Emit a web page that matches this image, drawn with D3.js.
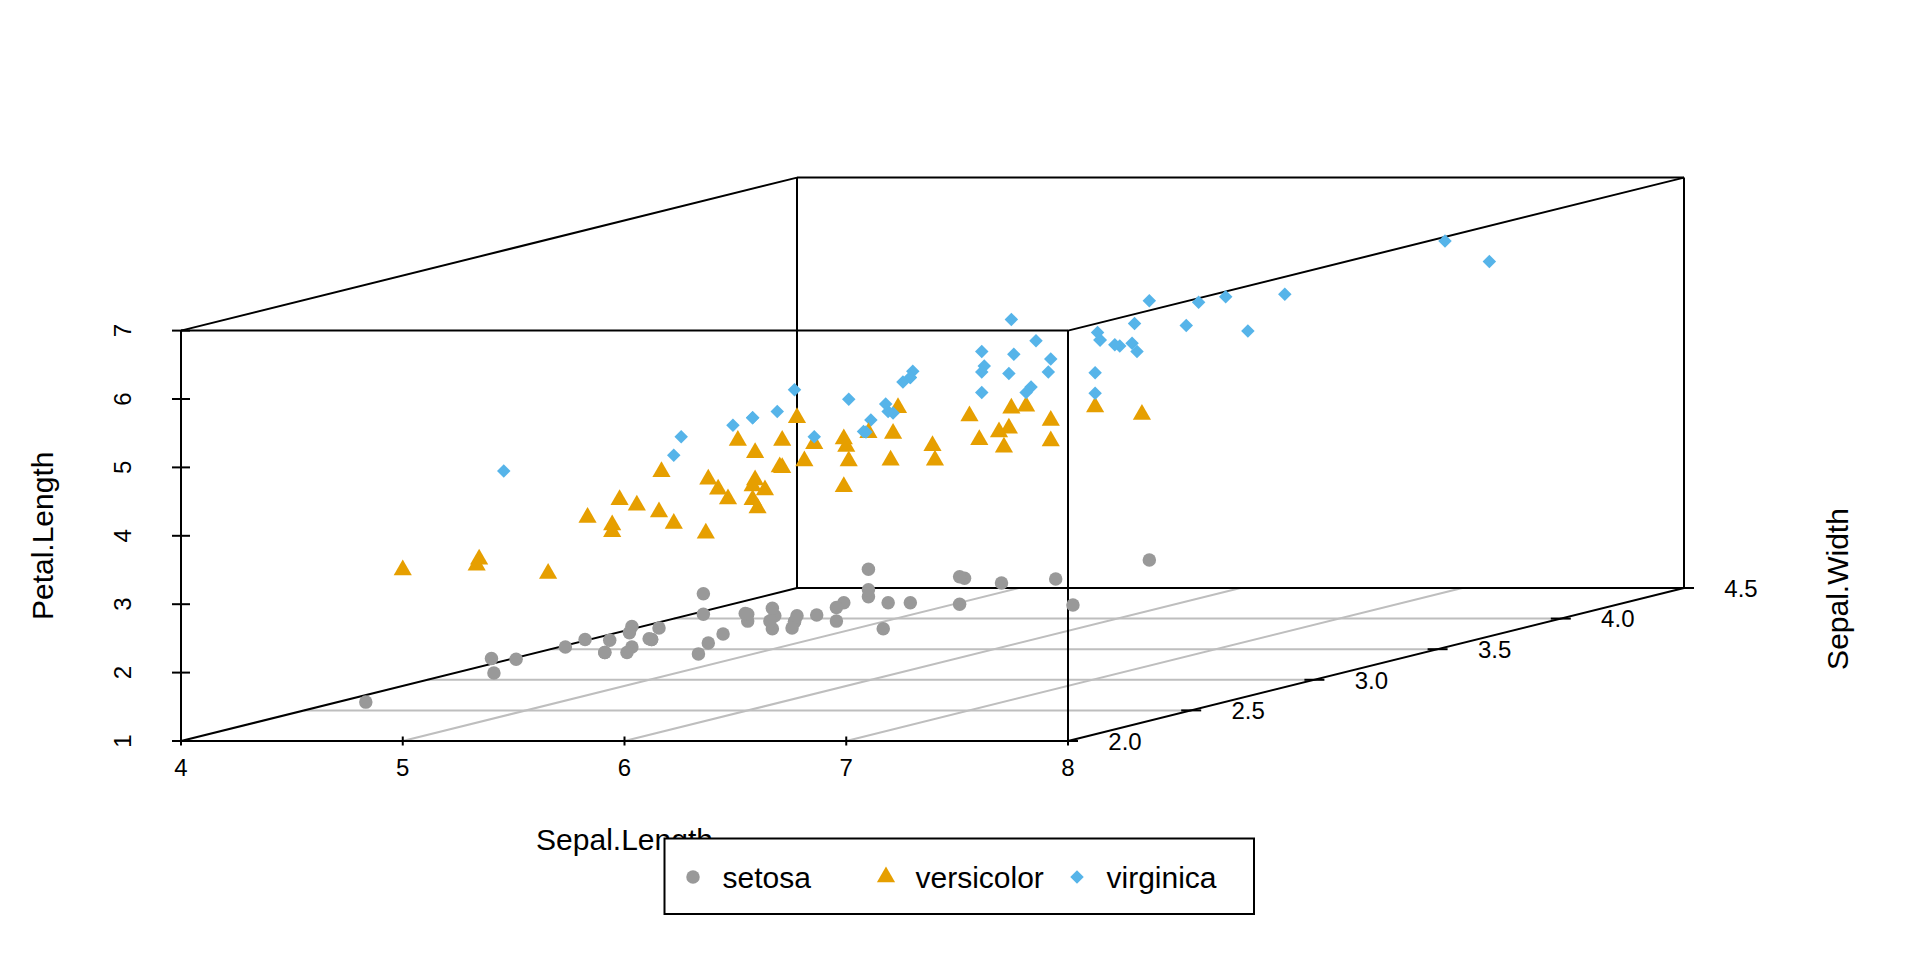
<!DOCTYPE html>
<html>
<head>
<meta charset="utf-8">
<script src="https://cdn.jsdelivr.net/npm/d3@7"></script>
<style>
  body { margin: 0; background: #fff; }
  text { font-family: "Liberation Sans", Arial, sans-serif; fill: #000; }
</style>
</head>
<body>
<script>
// iris data, one set of arrays per species
var setosaSepalLength = [5.1,4.9,4.7,4.6,5.0,5.4,4.6,5.0,4.4,4.9,5.4,4.8,4.8,4.3,5.8,5.7,5.4,5.1,5.7,5.1,5.4,5.1,4.6,5.1,4.8,5.0,5.0,5.2,5.2,4.7,4.8,5.4,5.2,5.5,4.9,5.0,5.5,4.9,4.4,5.1,5.0,4.5,4.4,5.0,5.1,4.8,5.1,4.6,5.3,5.0];
var setosaSepalWidth  = [3.5,3.0,3.2,3.1,3.6,3.9,3.4,3.4,2.9,3.1,3.7,3.4,3.0,3.0,4.0,4.4,3.9,3.5,3.8,3.8,3.4,3.7,3.6,3.3,3.4,3.0,3.4,3.5,3.4,3.2,3.1,3.4,4.1,4.2,3.1,3.2,3.5,3.6,3.0,3.4,3.5,2.3,3.2,3.5,3.8,3.0,3.8,3.2,3.7,3.3];
var setosaPetalLength = [1.4,1.4,1.3,1.5,1.4,1.7,1.4,1.5,1.4,1.5,1.5,1.6,1.4,1.1,1.2,1.5,1.3,1.4,1.7,1.5,1.7,1.5,1.0,1.7,1.9,1.6,1.6,1.5,1.4,1.6,1.6,1.5,1.5,1.4,1.5,1.2,1.3,1.4,1.3,1.5,1.3,1.3,1.3,1.6,1.9,1.4,1.6,1.4,1.5,1.4];

var versicolorSepalLength = [7.0,6.4,6.9,5.5,6.5,5.7,6.3,4.9,6.6,5.2,5.0,5.9,6.0,6.1,5.6,6.7,5.6,5.8,6.2,5.6,5.9,6.1,6.3,6.1,6.4,6.6,6.8,6.7,6.0,5.7,5.5,5.5,5.8,6.0,5.4,6.0,6.7,6.3,5.6,5.5,5.5,6.1,5.8,5.0,5.6,5.7,5.7,6.2,5.1,5.7];
var versicolorSepalWidth  = [3.2,3.2,3.1,2.3,2.8,2.8,3.3,2.4,2.9,2.7,2.0,3.0,2.2,2.9,2.9,3.1,3.0,2.7,2.2,2.5,3.2,2.8,2.5,2.8,2.9,3.0,2.8,3.0,2.9,2.6,2.4,2.4,2.7,2.7,3.0,3.4,3.1,2.3,3.0,2.5,2.6,3.0,2.6,2.3,2.7,3.0,2.9,2.9,2.5,2.8];
var versicolorPetalLength = [4.7,4.5,4.9,4.0,4.6,4.5,4.7,3.3,4.6,3.9,3.5,4.2,4.0,4.7,3.6,4.4,4.5,4.1,4.5,3.9,4.8,4.0,4.9,4.7,4.3,4.4,4.8,5.0,4.5,3.5,3.8,3.7,3.9,5.1,4.5,4.5,4.7,4.4,4.1,4.0,4.4,4.6,4.0,3.3,4.2,4.2,4.2,4.3,3.0,4.1];

var virginicaSepalLength = [6.3,5.8,7.1,6.3,6.5,7.6,4.9,7.3,6.7,7.2,6.5,6.4,6.8,5.7,5.8,6.4,6.5,7.7,7.7,6.0,6.9,5.6,7.7,6.3,6.7,7.2,6.2,6.1,6.4,7.2,7.4,7.9,6.4,6.3,6.1,7.7,6.3,6.4,6.0,6.9,6.7,6.9,5.8,6.8,6.7,6.7,6.3,6.5,6.2,5.9];
var virginicaSepalWidth  = [3.3,2.7,3.0,2.9,3.0,3.0,2.5,2.9,2.5,3.6,3.2,2.7,3.0,2.5,2.8,3.2,3.0,3.8,2.6,2.2,3.2,2.8,2.8,2.7,3.3,3.2,2.8,3.0,2.8,3.0,2.8,3.8,2.8,2.8,2.6,3.0,3.4,3.1,3.0,3.1,3.1,3.1,2.7,3.2,3.3,3.0,2.5,3.0,3.4,3.0];
var virginicaPetalLength = [6.0,5.1,5.9,5.6,5.8,6.6,4.5,6.3,5.8,6.1,5.1,5.3,5.5,5.0,5.1,5.3,5.5,6.7,6.9,5.0,5.7,4.9,6.7,4.9,5.7,6.0,4.8,4.9,5.6,5.8,6.1,6.4,5.6,5.1,5.6,6.1,5.6,5.5,4.8,5.4,5.6,5.1,5.1,5.9,5.7,5.2,5.0,5.2,5.4,5.1];

var speciesNames  = ['setosa', 'versicolor', 'virginica'];
var speciesColors = ['#999999', '#E69F00', '#56B4E9'];

var xTicks = [4, 5, 6, 7, 8];                // Sepal.Length
var yTicks = [2.0, 2.5, 3.0, 3.5, 4.0, 4.5]; // Sepal.Width
var zTicks = [1, 2, 3, 4, 5, 6, 7];          // Petal.Length

var W = 1920, H = 960;
var lineW = 2;

var svg = d3.select('body').append('svg').attr('width', W).attr('height', H);

// projection: x goes right, z goes up, y goes back along an oblique direction
var xScale = d3.scaleLinear().domain([4, 8]).range([181, 1068]);
var zScale = d3.scaleLinear().domain([1, 7]).range([741, 330.6]);
var yDepth = d3.scaleLinear().domain([2, 4.5]).range([0, 1]);
var depthX = 616, depthY = -153;

function proj(x, y, z) {
  var t = yDepth(y);
  return [xScale(x) + t * depthX, zScale(z) + t * depthY];
}

function seg(g, a, b, col, w) {
  g.append('line')
    .attr('x1', a[0]).attr('y1', a[1])
    .attr('x2', b[0]).attr('y2', b[1])
    .attr('stroke', col).attr('stroke-width', w);
}

var xMin = 4, xMax = 8, yMin = 2, yMax = 4.5, zMin = 1, zMax = 7;

// grid on the bottom plane
var grid = svg.append('g');
yTicks.slice(1, -1).forEach(function (v) {
  seg(grid, proj(xMin, v, zMin), proj(xMax, v, zMin), '#BEBEBE', lineW);
});
xTicks.slice(1, -1).forEach(function (v) {
  seg(grid, proj(v, yMin, zMin), proj(v, yMax, zMin), '#BEBEBE', lineW);
});

// box
var box = svg.append('g');
var edges = [
  [[xMin, yMin, zMin], [xMax, yMin, zMin]],
  [[xMin, yMin, zMin], [xMin, yMin, zMax]],
  [[xMax, yMin, zMin], [xMax, yMax, zMin]],
  [[xMin, yMin, zMax], [xMax, yMin, zMax]],
  [[xMax, yMin, zMin], [xMax, yMin, zMax]],
  [[xMin, yMin, zMax], [xMin, yMax, zMax]],
  [[xMax, yMin, zMax], [xMax, yMax, zMax]],
  [[xMin, yMax, zMax], [xMax, yMax, zMax]],
  [[xMin, yMax, zMin], [xMin, yMax, zMax]],
  [[xMax, yMax, zMin], [xMax, yMax, zMax]],
  [[xMin, yMax, zMin], [xMax, yMax, zMin]],
  [[xMin, yMin, zMin], [xMin, yMax, zMin]]
];
edges.forEach(function (e) {
  seg(box, proj.apply(null, e[0]), proj.apply(null, e[1]), '#000', lineW);
});

// ticks and tick labels
var axes = svg.append('g');
xTicks.forEach(function (v) {
  var p = proj(v, yMin, zMin);
  seg(axes, [p[0], p[1] - 4.5], [p[0], p[1] + 4.5], '#000', lineW);
  axes.append('text').attr('x', p[0]).attr('y', p[1] + 35)
    .attr('text-anchor', 'middle').attr('font-size', 24).text(v);
});
zTicks.forEach(function (v) {
  var p = proj(xMin, yMin, v);
  seg(axes, [p[0] - 9, p[1]], [p[0] + 9, p[1]], '#000', lineW);
  axes.append('text')
    .attr('transform', 'translate(' + (p[0] - 50.5) + ',' + p[1] + ') rotate(-90)')
    .attr('text-anchor', 'middle').attr('font-size', 24).text(v);
});
var fmt = d3.format('.1f');
yTicks.forEach(function (v) {
  var p = proj(xMax, v, zMin);
  seg(axes, [p[0] - 10, p[1]], [p[0] + 10, p[1]], '#000', lineW);
  axes.append('text').attr('x', p[0] + 57).attr('y', p[1] + 8.8)
    .attr('text-anchor', 'middle').attr('font-size', 24).text(fmt(v));
});

// axis titles
axes.append('text').attr('x', (xScale(xMin) + xScale(xMax)) / 2).attr('y', 850)
  .attr('text-anchor', 'middle').attr('font-size', 30).text('Sepal.Length');
axes.append('text')
  .attr('transform', 'translate(53,' + (zScale(zMin) + zScale(zMax)) / 2 + ') rotate(-90)')
  .attr('text-anchor', 'middle').attr('font-size', 30).text('Petal.Length');
axes.append('text')
  .attr('transform', 'translate(1848,589) rotate(-90)')
  .attr('text-anchor', 'middle').attr('font-size', 30).text('Sepal.Width');

// point symbols (R pch 16, 17, 18)
var R = 6.75;
var symbolPaths = [
  'M' + (-R) + ',0A' + R + ',' + R + ' 0 1,0 ' + R + ',0A' + R + ',' + R + ' 0 1,0 ' + (-R) + ',0Z',
  'M0,' + (-1.5551 * R) + 'L' + (1.3468 * R) + ',' + (0.7776 * R) + 'L' + (-1.3468 * R) + ',' + (0.7776 * R) + 'Z',
  'M0,' + (-R) + 'L' + R + ',0L0,' + R + 'L' + (-R) + ',0Z'
];

var points = [];
[[setosaSepalLength, setosaSepalWidth, setosaPetalLength],
 [versicolorSepalLength, versicolorSepalWidth, versicolorPetalLength],
 [virginicaSepalLength, virginicaSepalWidth, virginicaPetalLength]].forEach(function (s, k) {
  s[0].forEach(function (x, i) {
    points.push({ x: x, y: s[1][i], z: s[2][i], k: k });
  });
});
// draw back to front
points.sort(function (a, b) { return b.y - a.y; });

svg.append('g').selectAll('path')
  .data(points)
  .enter()
  .append('path')
  .attr('d', function (d) { return symbolPaths[d.k]; })
  .attr('transform', function (d) {
    var p = proj(d.x, d.y, d.z);
    return 'translate(' + p[0] + ',' + p[1] + ')';
  })
  .attr('fill', function (d) { return speciesColors[d.k]; });

// legend
var legend = svg.append('g');
legend.append('rect').attr('x', 664.5).attr('y', 838.5).attr('width', 589.5).attr('height', 75.5)
  .attr('fill', '#fff').attr('stroke', '#000').attr('stroke-width', lineW);
var legendX = [693, 886, 1077];
speciesNames.forEach(function (name, k) {
  legend.append('path').attr('d', symbolPaths[k])
    .attr('transform', 'translate(' + legendX[k] + ',877)')
    .attr('fill', speciesColors[k]);
  legend.append('text').attr('x', legendX[k] + 29.5).attr('y', 877 + 10.7)
    .attr('font-size', 30).text(name);
});
</script>
</body>
</html>
